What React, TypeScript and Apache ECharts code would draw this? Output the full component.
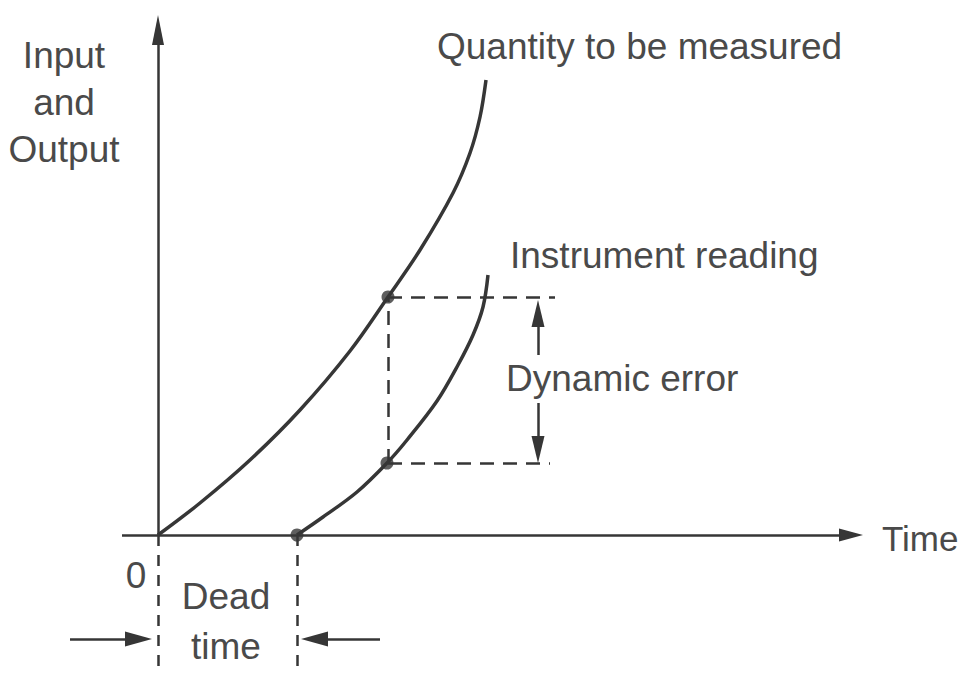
import React, { useEffect, useRef } from "react";
import * as echarts from "echarts";

// Curves (time, value)
const quantityX = [0, 4.2, 9.2, 14.2, 19.2, 23.0, 26.2, 29.5, 31.2, 32.2, 32.8];
const quantityY = [0, 3.2, 7.5, 12.5, 18.4, 23.8, 28.5, 34.2, 38.2, 41.8, 45.5];
const instrumentX = [13.9, 16.5, 19.9, 22.9, 24.9, 27.9, 30.0, 31.5, 32.5, 33.0];
const instrumentY = [0, 1.8, 4.3, 7.2, 9.5, 13.4, 17.0, 20.0, 22.8, 26.0];

// Marked points
const dotX = [23.0, 22.9, 13.9];
const dotY = [23.8, 7.2, 0];

// Axis extents and guide values
const axisStartX = -3.6;
const axisEndX = 69.3;
const axisEndY = 50.5;
const deadTime = 13.9;
const sampleTime = 23.0;
const errorTop = 23.8;
const errorBottom = 7.2;
const guideEndTop = 39.7;
const guideEndBottom = 39.2;
const errorArrowX = 38.0;
const belowAxis = -13.9;
const deadArrowY = -10.4;

const labels = {
  yTitle: "Input\nand\nOutput",
  quantity: "Quantity to be measured",
  instrument: "Instrument reading",
  dynamic: "Dynamic error",
  time: "Time",
  zero: "0",
  dead1: "Dead",
  dead2: "time",
};

const INK = "#363636";
const TEXT = "#4a4a4a";
const FAMILY = "'Liberation Sans', Arial, sans-serif";
const FONT = "37px " + FAMILY;

export default function App() {
  const ref = useRef<HTMLDivElement>(null);
  useEffect(() => {
    if (!ref.current) return;
    const chart = echarts.init(ref.current, undefined, { renderer: "svg" });
    const zip = (xs: number[], ys: number[]) => xs.map((x, i) => [x, ys[i]]);
    const dashed = (w: number, d: number[]) => ({ color: INK, width: w, type: d });
    const seg = (
      a: number[],
      b: number[],
      style: any,
      symbol: string[] = ["none", "none"],
      size: number[] = [1, 1]
    ) => [
      { coord: a, symbol: symbol[0], symbolSize: size, lineStyle: style },
      { coord: b, symbol: symbol[1], symbolSize: size },
    ];
    const solid = { color: INK, width: 2.5, type: "solid" };
    const arrow = ["none", "triangle"];
    const text = (t: string, x: number, y: number, align = "left", extra: any = {}) => ({
      type: "text",
      x,
      y,
      silent: true,
      style: {
        text: t,
        font: FONT,
        fill: TEXT,
        align,
        verticalAlign: "middle",
        textAlign: align,
        textVerticalAlign: "middle",
        ...extra,
      },
    });
    const hiddenAxis = {
      type: "value",
      axisLine: { show: false },
      axisTick: { show: false },
      axisLabel: { show: false },
      splitLine: { show: false },
    };
    chart.setOption({
      animation: false,
      backgroundColor: "#ffffff",
      grid: { left: 0, right: 0, top: 0, bottom: 0 },
      xAxis: { ...hiddenAxis, min: -15.8, max: 80.5 },
      yAxis: { ...hiddenAxis, min: -14, max: 53.5 },
      series: [
        {
          name: "Quantity to be measured",
          type: "line",
          smooth: 0.35,
          symbol: "none",
          silent: true,
          data: zip(quantityX, quantityY),
          lineStyle: { color: INK, width: 3.5 },
        },
        {
          name: "Instrument reading",
          type: "line",
          smooth: 0.35,
          symbol: "none",
          silent: true,
          data: zip(instrumentX, instrumentY),
          lineStyle: { color: INK, width: 3.5 },
        },
        {
          name: "points",
          type: "scatter",
          symbolSize: 13,
          silent: true,
          z: 5,
          itemStyle: { color: INK },
          data: zip(dotX, dotY),
          markLine: {
            silent: true,
            animation: false,
            label: { show: false },
            emphasis: { disabled: true },
            data: [
              // axes
              seg([axisStartX, 0], [axisEndX, 0], solid, arrow, [13, 24]),
              seg([0, 0], [0, axisEndY], solid, arrow, [12, 30]),
              // guides
              seg([sampleTime, errorTop], [guideEndTop, errorTop], dashed(2.5, [14, 9])),
              seg([sampleTime, errorBottom], [guideEndBottom, errorBottom], dashed(2.5, [14, 9])),
              seg([sampleTime, errorBottom], [sampleTime, errorTop], dashed(2.5, [14, 9])),
              seg([0, 0], [0, belowAxis], dashed(2.5, [11, 9])),
              seg([deadTime, 0], [deadTime, belowAxis], dashed(2.5, [11, 9])),
              // dimension arrows
              seg([errorArrowX, 18.0], [errorArrowX, errorTop - 0.3 - 1.35], solid, arrow, [13, 27]),
              seg([errorArrowX, 13.2], [errorArrowX, errorBottom + 1.35], solid, arrow, [13, 27]),
              seg([-8.8, deadArrowY], [-0.6 - 1.35, deadArrowY], solid, arrow, [15, 27]),
              seg([deadTime + 8.3, deadArrowY], [deadTime + 0.4 + 1.35, deadArrowY], solid, arrow, [15, 27]),
            ],
          },
        },
      ],
      graphic: [
        text(labels.yTitle, 64, 102, "center", { lineHeight: 47 }),
        text(labels.quantity, 437, 46),
        text(labels.instrument, 510, 255),
        text(labels.dynamic, 506, 378),
        text(labels.time, 882, 538, "left", { font: "35px " + FAMILY }),
        text(labels.zero, 136, 575, "center"),
        text(labels.dead1, 226, 596, "center"),
        text(labels.dead2, 226, 646, "center"),
      ],
    });
    return () => chart.dispose();
  }, []);
  return (
    <div
      ref={ref}
      style={{ position: "fixed", left: 0, top: 0, width: 963, height: 675 }}
    />
  );
}
